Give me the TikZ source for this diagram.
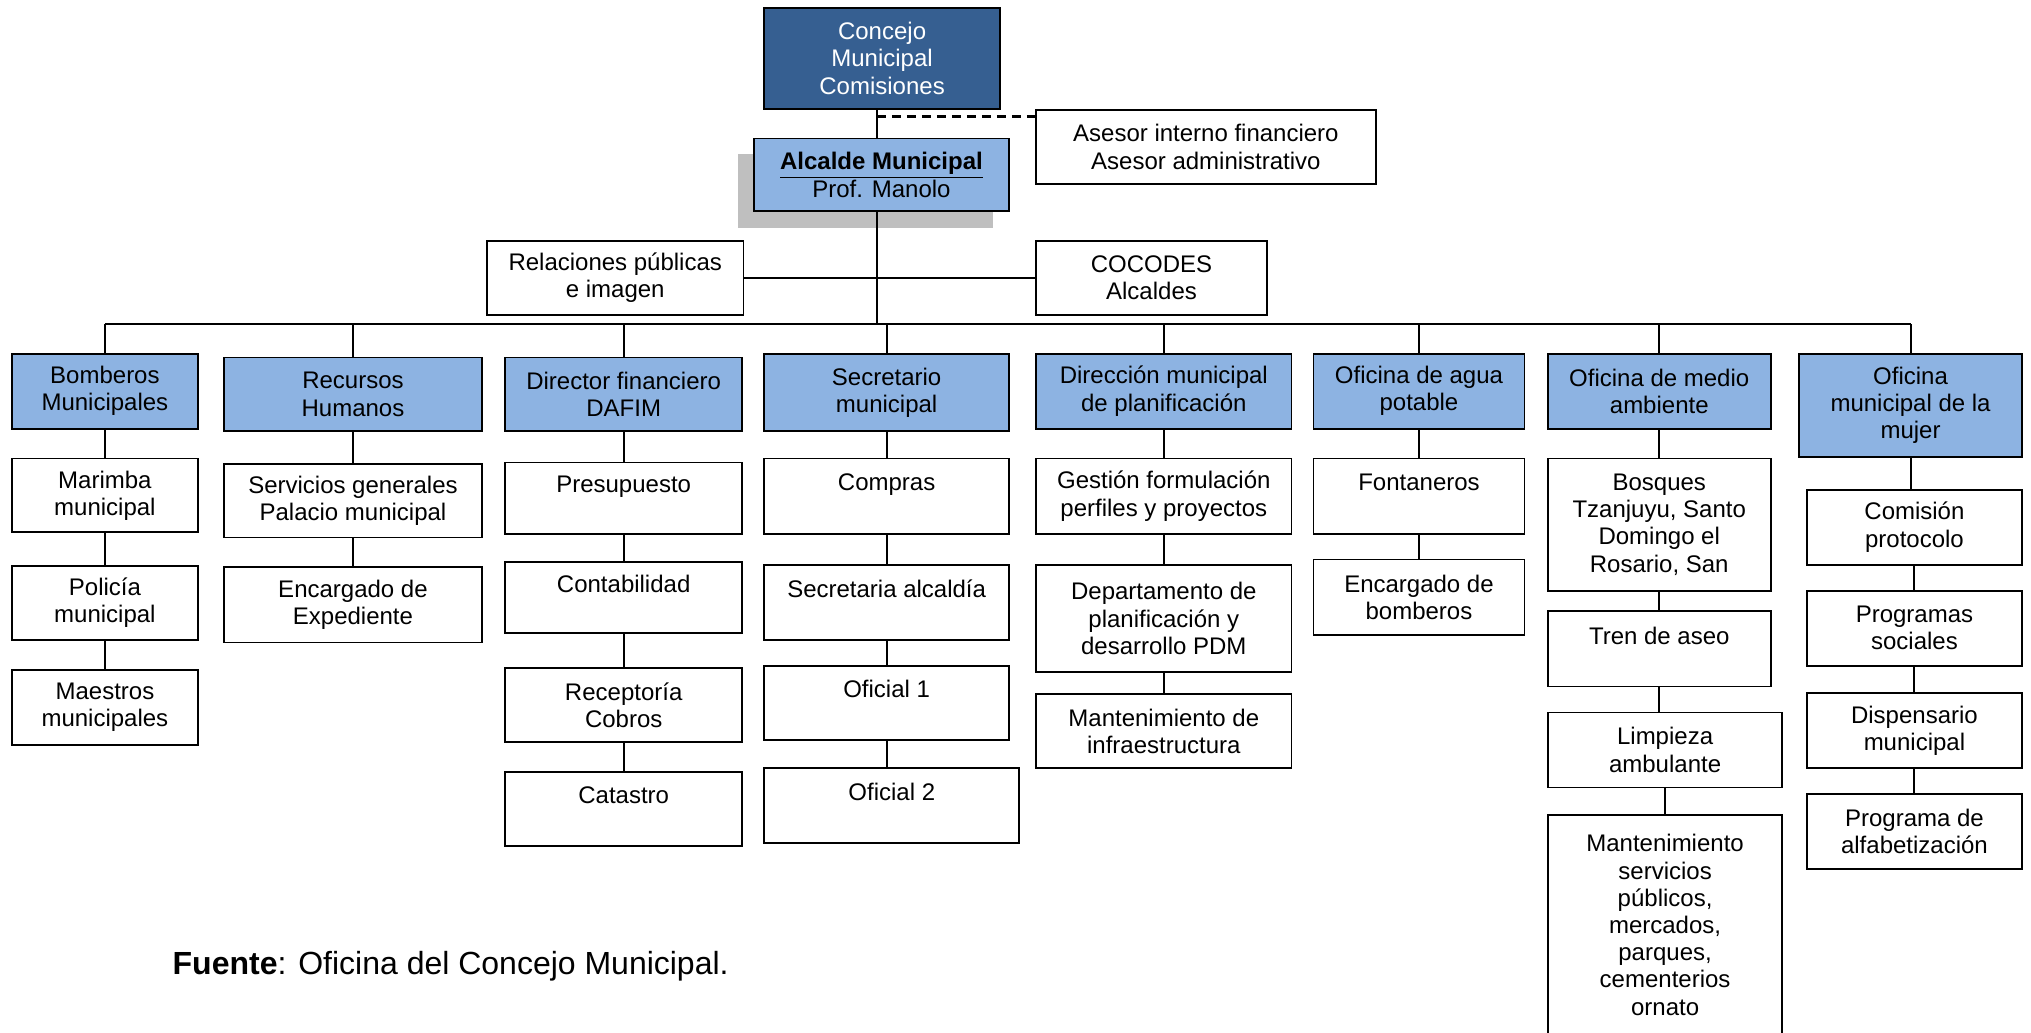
\documentclass[tikz,border=0pt]{standalone}
\usepackage{fontspec}
\setmainfont{Liberation Sans}
\definecolor{darkblue}{HTML}{365F91}
\definecolor{lightblue}{HTML}{8DB3E2}
\definecolor{shadowgray}{HTML}{BFBFBF}
\newcommand\bx[7][box]{\node[#1,minimum width={(#5-#3)*0.6477pt},minimum height={(#6-#4)*0.6477pt}] (#2) at ({(#3+#5)/2},{(#4+#6)/2}) {#7};}
\begin{document}
\begin{tikzpicture}[x=0.6477pt,y=-0.6477pt,
  box/.style={draw=black,line width=0.9pt,fill=white,inner sep=0pt,outer sep=0pt,align=center,font=\fontsize{12}{13.6}\selectfont},
  head/.style={box,fill=lightblue},
  top/.style={box,fill=darkblue,text=white},
  conn/.style={draw=black,line width=1pt}]
\path[use as bounding box,clip] (0,0) rectangle (1568,797);
\fill[white] (0,0) rectangle (1568,797);
% top
\fill[shadowgray] (570,119) rectangle (767,176);
\bx[top]{concejo}{590}{6}{772}{84}{Concejo\\Municipal\\Comisiones}
\bx[head]{alcalde}{582}{107}{779}{163}{\underline{\textbf{Alcalde Municipal}}\\Prof. Manolo}
\bx{asesor}{800}{85}{1062}{142}{Asesor interno financiero\\Asesor administrativo}
\bx{rel}{376}{186}{574}{243}{Relaciones públicas\\e imagen}
\bx{coc}{800}{186}{978}{243}{COCODES\\Alcaldes}
% heads
\bx[head]{bomb}{9}{273}{153}{331}{Bomberos\\Municipales}
\bx[head]{rrhh}{173}{276}{372}{333}{Recursos\\Humanos}
\bx[head]{dir}{390}{276}{573}{333}{Director financiero\\DAFIM}
\bx[head]{sec}{590}{273}{779}{333}{Secretario\\municipal}
\bx[head]{dmp}{800}{273}{997}{331}{Dirección municipal\\de planificación}
\bx[head]{agua}{1014}{273}{1177}{331}{Oficina de agua\\potable}
\bx[head]{medio}{1195}{273}{1367}{331}{Oficina de medio\\ambiente}
\bx[head]{mujer}{1389}{273}{1561}{353}{Oficina\\municipal de la\\mujer}
% children
\bx{marimba}{9}{354}{153}{411}{Marimba\\municipal}
\bx{policia}{9}{437}{153}{494}{Policía\\municipal}
\bx{maestros}{9}{517}{153}{575}{Maestros\\municipales}
\bx{serv}{173}{358}{372}{415}{Servicios generales\\Palacio municipal}
\bx{exped}{173}{438}{372}{496}{Encargado de\\Expediente}
\bx{presu}{390}{357}{573}{412}{Presupuesto\\\mbox{}}
\bx{conta}{390}{434}{573}{489}{Contabilidad\\\mbox{}}
\bx{recep}{390}{516}{573}{573}{Receptoría\\Cobros}
\bx{catas}{390}{596}{573}{653}{Catastro\\\mbox{}}
\bx{compras}{590}{354}{779}{412}{Compras\\\mbox{}}
\bx{secalc}{590}{436}{779}{494}{Secretaria alcaldía\\\mbox{}}
\bx{ofa}{590}{514}{779}{571}{Oficial 1\\\mbox{}}
\bx{ofb}{590}{593}{787}{651}{Oficial 2\\\mbox{}}
\bx{gest}{800}{354}{997}{412}{Gestión formulación\\perfiles y proyectos}
\bx{depto}{800}{436}{997}{519}{Departamento de\\planificación y\\desarrollo PDM}
\bx{mantinf}{800}{536}{997}{593}{Mantenimiento de\\infraestructura}
\bx{font}{1014}{354}{1177}{412}{Fontaneros\\\mbox{}}
\bx{encbom}{1014}{432}{1177}{490}{Encargado de\\bomberos}
\bx{bosq}{1195}{354}{1367}{456}{Bosques\\Tzanjuyu, Santo\\Domingo el\\Rosario, San}
\bx{tren}{1195}{472}{1367}{530}{Tren de aseo\\\mbox{}}
\bx{limp}{1195}{550}{1376}{608}{Limpieza\\ambulante}
\bx{mantser}{1195}{629}{1376}{799}{Mantenimiento\\servicios\\públicos,\\mercados,\\parques,\\cementerios\\ornato}
\bx{comis}{1395}{378}{1561}{436}{Comisión\\protocolo}
\bx{progs}{1395}{456}{1561}{514}{Programas\\sociales}
\bx{disp}{1395}{535}{1561}{593}{Dispensario\\municipal}
\bx{alfab}{1395}{613}{1561}{671}{Programa de\\alfabetización}
% connectors
\coordinate (bus) at (677,250);
\coordinate (dj) at (677,90);
\draw[conn] (concejo.south -| bus) -- (alcalde.north -| bus);
\draw[conn] (alcalde.south -| bus) -- (bus);
\draw[line width=1.8pt,dash pattern=on 4.5pt off 3pt] (dj) -- (asesor.west |- dj);
\draw[conn] (rel.east) -- (coc.west);
\draw[conn] (bomb.north |- bus) -- (mujer.north |- bus);
\foreach \h in {bomb,rrhh,dir,sec,dmp,agua,medio,mujer}
  \draw[conn] (\h.north) -- (\h.north |- bus);
\foreach \a/\b in {bomb/marimba,marimba/policia,policia/maestros,
  rrhh/serv,serv/exped,
  dir/presu,presu/conta,conta/recep,recep/catas,
  sec/compras,compras/secalc,secalc/ofa,ofa/ofb,
  dmp/gest,gest/depto,depto/mantinf,
  agua/font,font/encbom,
  medio/bosq,bosq/tren,tren/limp,limp/mantser,
  mujer/comis,comis/progs,progs/disp,disp/alfab}
  \draw[conn] (\a.south) -- (\a.south |- \b.north);
\node[anchor=base west,inner sep=0pt,font=\fontsize{16}{19}\selectfont] (fuente) at (133,752) {\textbf{Fuente}: Oficina del Concejo Municipal.};
\end{tikzpicture}
\end{document}
